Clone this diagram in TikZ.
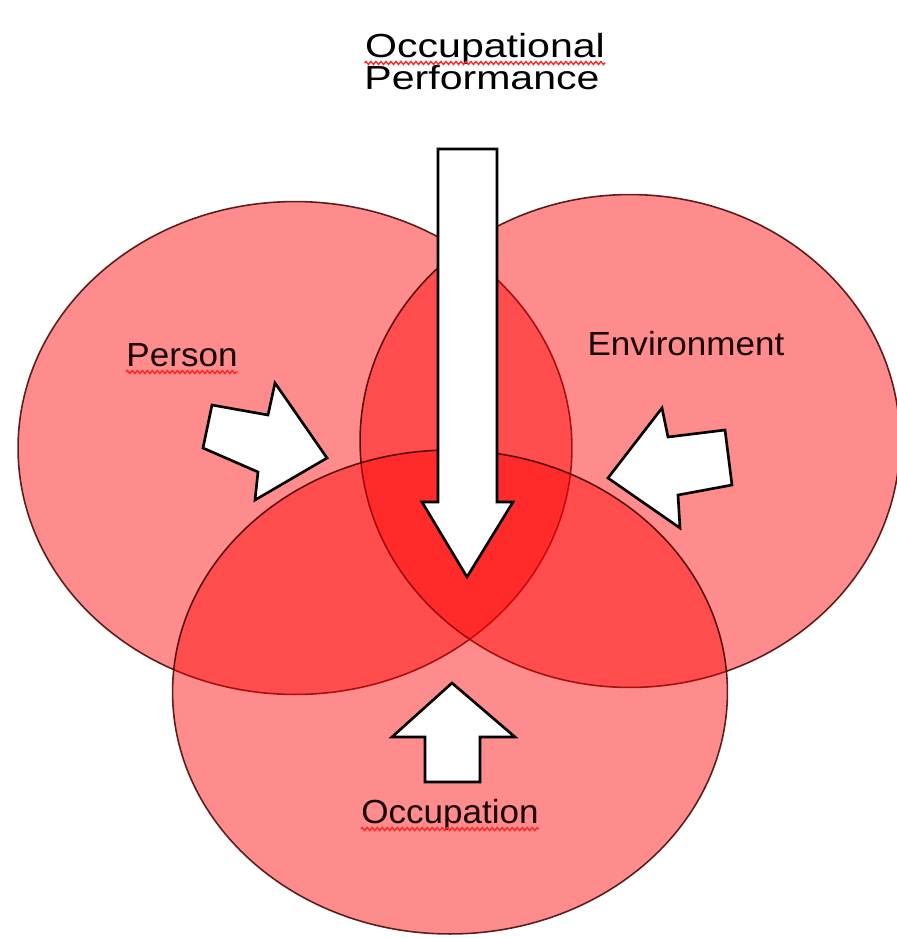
\documentclass[tikz,border=0pt]{standalone}
\usepackage{fontspec}
\setmainfont{Liberation Sans}
\usepackage{tikz}
\usetikzlibrary{calc,decorations.pathmorphing}
\colorlet{Circle}{red}
\colorlet{Rim}{black!75!red}
\colorlet{Squiggle}{red!85}

\begin{document}
\begin{tikzpicture}[
    x=0.02cm, y=-0.02cm,
    set/.style={fill=Circle, fill opacity=0.45, draw=Rim, draw opacity=0.85, line width=0.9pt},
    blockarrow/.style={fill=white, draw=black, line width=1.5pt, line join=miter},
    headline/.style={font={\fontsize{19}{22}\selectfont}, xscale=1.23, inner sep=0pt, anchor=base},
    setname/.style={font={\fontsize{19}{22}\selectfont}, xscale=1.05, inner sep=0pt, anchor=base, text=black!90!red},
    squiggle/.style={draw=Squiggle, line width=0.8pt, decorate, decoration={zigzag, segment length=0.1cm, amplitude=0.03cm}}
  ]
  \useasboundingbox (0,0) rectangle (897,938);

  % the three sets
  \coordinate (person) at (295,448);
  \coordinate (environment) at (630,441);
  \coordinate (occupation) at (450,692);
  \draw[set] (person) ellipse [x radius=5.54cm, y radius=4.93cm];
  \draw[set] (environment) ellipse [x radius=5.4cm, y radius=4.93cm];
  \draw[set] (occupation) ellipse [x radius=5.55cm, y radius=4.84cm];

  % block arrows
  \draw[blockarrow] (438,149) -- (497,149) -- (497,502) -- (513,502) -- (467,577) -- (422,502) -- (438,502) -- cycle;
  \draw[blockarrow] (452,683) -- (515,737) -- (480,737) -- (480,782) -- (425,782) -- (425,737) -- (392,737) -- cycle;
  \draw[blockarrow] (212,405) -- (268,415) -- (275,383) -- (327,458) -- (255,500) -- (258,472) -- (203,448) -- cycle;
  \draw[blockarrow] (608,478) -- (662,408) -- (668,437) -- (725,430) -- (732,485) -- (678,495) -- (680,528) -- cycle;

  % texts
  \node[headline] (head1) at (485,57) {Occupational};
  \node[headline] (head2) at (482,89) {Performance};
  \node[setname] (lperson) at (182,366) {Person};
  \node[setname] (lenv) at (686,355) {Environment};
  \node[setname] (locc) at (450,823) {Occupation};

  \draw[squiggle] ($(head1.base west)+(0,6)$) -- ($(head1.base east)+(0,6)$);
  \draw[squiggle] ($(lperson.base west)+(0,6)$) -- ($(lperson.base east)+(0,6)$);
  \draw[squiggle] ($(locc.base west)+(0,6)$) -- ($(locc.base east)+(0,6)$);
\end{tikzpicture}
\end{document}
